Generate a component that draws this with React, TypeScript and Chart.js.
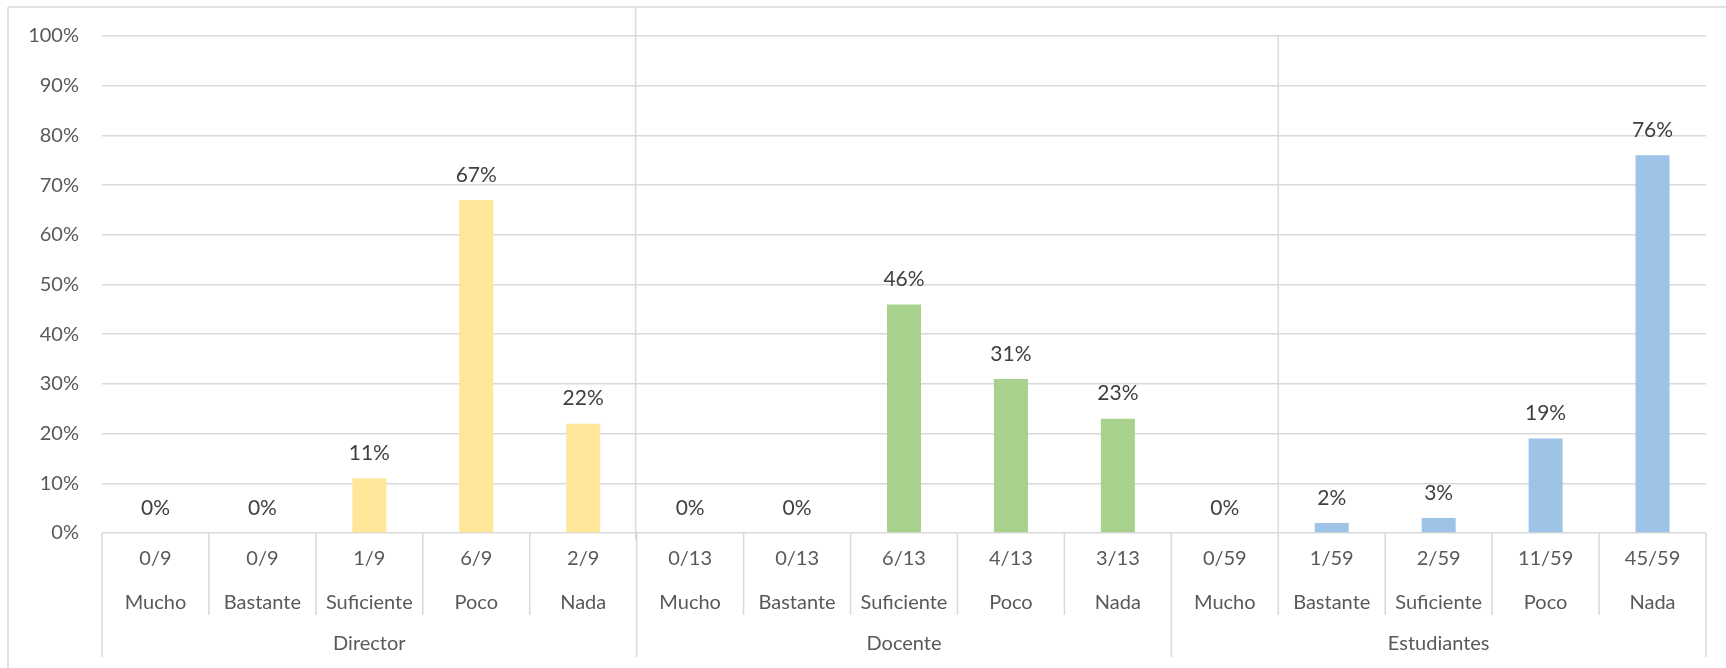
import React, { useEffect, useRef } from "react";
import { Chart, registerables } from "chart.js";

Chart.register(...registerables);

const groups = ["Director", "Docente", "Estudiantes"];
const levels = ["Mucho", "Bastante", "Suficiente", "Poco", "Nada"];
const directorValues = [0, 0, 11, 67, 22];
const docenteValues = [0, 0, 46, 31, 23];
const estudiantesValues = [0, 2, 3, 19, 76];
const directorCounts = ["0/9", "0/9", "1/9", "6/9", "2/9"];
const docenteCounts = ["0/13", "0/13", "6/13", "4/13", "3/13"];
const estudiantesCounts = ["0/59", "1/59", "2/59", "11/59", "45/59"];
const groupColors = ["#FFE699", "#A9D18E", "#9DC3E6"];
const yMin = 0;
const yMax = 100;
const yStep = 10;

const FONT = "Lato, 'Open Sans', sans-serif";
const LINE = "#d9d9d9";

export default function App() {
  const ref = useRef<HTMLCanvasElement | null>(null);

  useEffect(() => {
    const canvas = ref.current;
    if (!canvas) return;
    const values = [...directorValues, ...docenteValues, ...estudiantesValues];
    const counts = [...directorCounts, ...docenteCounts, ...estudiantesCounts];
    const labelsLevel = [...levels, ...levels, ...levels];
    const colors = [
      ...directorValues.map(() => groupColors[0]),
      ...docenteValues.map(() => groupColors[1]),
      ...estudiantesValues.map(() => groupColors[2]),
    ];
    const categories = counts.map((c, i) => `${groups[Math.floor(i / 5)]} ${labelsLevel[i]} ${c}`);
    const perGroup = levels.length;

    const decor = {
      id: "decor",
      afterDraw(chart: any) {
        const ctx = chart.ctx;
        const area = chart.chartArea;
        const xs = chart.scales.x;
        const n = values.length;
        const px = (i: number) => xs.getPixelForValue(i);
        const boundary = (i: number) => {
          if (i <= 0) return area.left;
          if (i >= n) return area.right;
          return (px(i - 1) + px(i)) / 2;
        };
        ctx.save();
        ctx.strokeStyle = LINE;
        ctx.lineWidth = 1.5;
        // frame
        ctx.beginPath();
        ctx.moveTo(8, 7);
        ctx.lineTo(chart.width, 7);
        ctx.moveTo(8, 7);
        ctx.lineTo(8, chart.height);
        // overlapping frame edges
        const b1 = boundary(perGroup);
        ctx.moveTo(b1 - 1, 7);
        ctx.lineTo(b1 - 1, area.bottom + 7);
        const b2 = boundary(2 * perGroup + 1);
        ctx.moveTo(b2, area.top);
        ctx.lineTo(b2, area.bottom);
        // category dividers
        for (let i = 0; i <= n; i++) {
          const x = boundary(i);
          const len = i % perGroup === 0 ? 124 : 82;
          ctx.moveTo(x, area.bottom);
          ctx.lineTo(x, area.bottom + len);
        }
        ctx.stroke();

        ctx.textAlign = "center";
        ctx.textBaseline = "middle";
        ctx.fillStyle = "#595959";
        ctx.font = `20px ${FONT}`;
        for (let i = 0; i < n; i++) {
          ctx.fillText(counts[i], px(i), area.bottom + 26);
          ctx.fillText(labelsLevel[i], px(i), area.bottom + 70);
        }
        groups.forEach((g, gi) => {
          const cx = (boundary(gi * perGroup) + boundary((gi + 1) * perGroup)) / 2;
          ctx.fillText(g, cx, area.bottom + 111);
        });

        // data labels
        const meta = chart.getDatasetMeta(0);
        ctx.fillStyle = "#404040";
        ctx.font = `21px ${FONT}`;
        meta.data.forEach((bar: any, i: number) => {
          ctx.fillText(`${values[i]}%`, bar.x, bar.y - 25);
        });
        ctx.restore();
      },
    };

    const chart = new Chart(canvas, {
      type: "bar",
      data: {
        labels: categories,
        datasets: [
          {
            data: values,
            backgroundColor: colors,
            borderWidth: 0,
            barPercentage: 0.318,
            categoryPercentage: 1,
          },
        ],
      },
      options: {
        responsive: false,
        animation: false,
        devicePixelRatio: 1,
        layout: { padding: { left: 0, right: 20, top: 36, bottom: 135 } },
        plugins: {
          legend: { display: false },
          tooltip: { enabled: false },
          title: { display: false },
        },
        scales: {
          x: {
            display: false,
            offset: true,
            grid: { display: false },
          },
          y: {
            min: yMin,
            max: yMax,
            afterFit: (scale: any) => {
              scale.width = 102;
            },
            border: { display: false },
            grid: { color: LINE, lineWidth: 1.5, drawTicks: false },
            ticks: {
              stepSize: yStep,
              padding: 23,
              color: "#595959",
              font: { family: FONT, size: 20 },
              callback: (v: any) => `${v}%`,
            },
          },
        },
      },
      plugins: [decor],
    });
    return () => chart.destroy();
  }, []);

  return (
    <div style={{ position: "fixed", left: 0, top: 0, width: 1726, height: 668, background: "#fff" }}>
      <canvas ref={ref} width={1726} height={668} />
    </div>
  );
}
